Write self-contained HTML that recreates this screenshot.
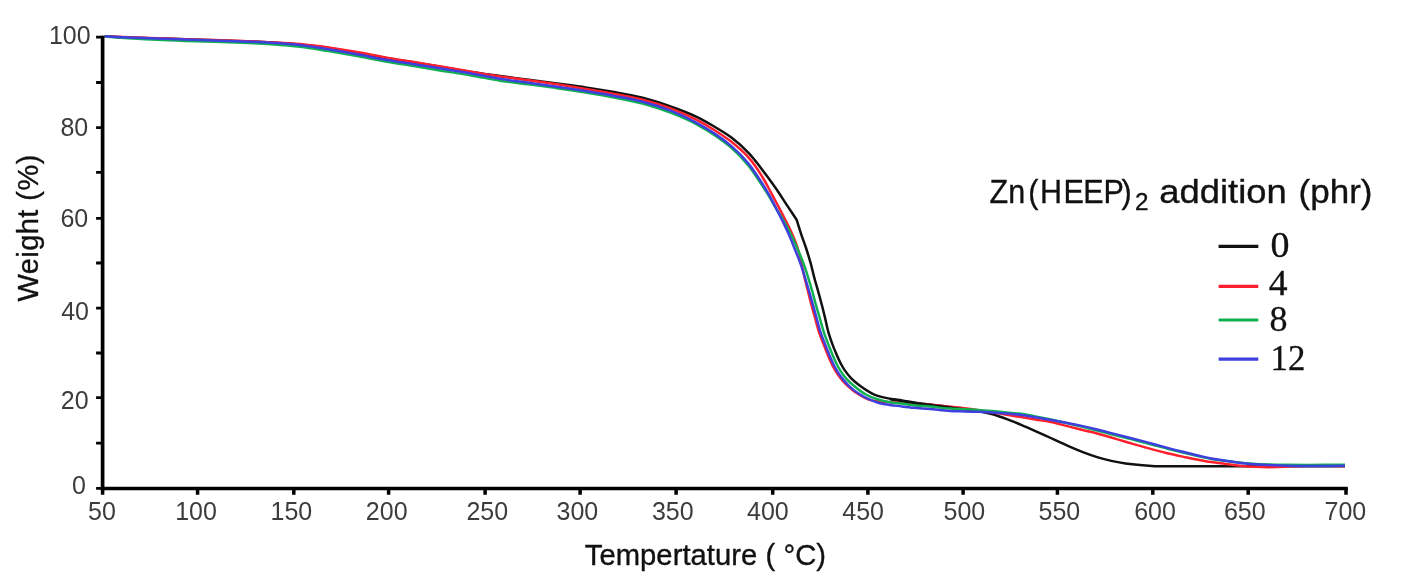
<!DOCTYPE html>
<html lang="en">
<head>
<meta charset="utf-8">
<title>TGA curves</title>
<style>
html,body{margin:0;padding:0;background:#fff;}
body{width:1402px;height:584px;overflow:hidden;}
svg{display:block;filter:blur(0.45px);}
</style>
</head>
<body>
<svg width="1402" height="584" viewBox="0 0 1402 584">
<rect width="1402" height="584" fill="#fff"/>
<g fill="none" stroke-width="2.5" stroke-linejoin="round" stroke-linecap="butt">
<path stroke="#111" d="M104.6 36.3C112.6 36.7 120.5 37.1 128.5 37.4C138.0 37.8 147.5 38.1 157.0 38.4C166.5 38.7 176.1 39.0 185.6 39.3C195.1 39.6 204.6 39.9 214.1 40.2C223.6 40.5 233.1 40.8 242.6 41.2C252.1 41.6 261.7 41.9 271.2 42.4C280.7 42.9 290.2 43.5 299.7 44.4C309.3 45.3 318.9 46.6 328.5 48.0C338.0 49.4 347.5 51.1 357.0 52.8C366.5 54.5 376.0 56.4 385.6 58.0C395.0 59.6 404.5 61.0 414.0 62.5C423.6 64.0 433.1 65.6 442.7 67.2C452.2 68.8 461.7 70.5 471.2 72.0C480.8 73.5 490.4 74.7 500.0 76.0C509.5 77.3 519.0 78.5 528.5 79.8C538.0 81.0 547.5 82.2 557.0 83.5C566.5 84.8 576.1 86.0 585.6 87.4C595.1 88.8 604.6 90.4 614.1 92.1C623.6 93.8 633.2 95.4 642.6 97.8C652.3 100.3 661.8 103.3 671.2 106.7C680.0 109.8 688.7 113.0 697.1 117.1C702.9 119.9 708.6 123.2 714.2 126.5C720.1 130.0 726.0 133.4 731.4 137.5C737.5 142.1 743.2 147.3 748.5 152.8C755.0 159.5 760.4 167.3 766.0 174.8C770.6 181.0 775.2 187.3 779.5 193.7C782.5 198.2 785.4 202.9 788.4 207.4C791.1 211.5 793.9 215.6 796.6 219.7L796.6 219.7C798.2 224.7 799.7 229.8 801.4 234.8C802.9 239.4 804.7 243.9 806.2 248.5C807.8 253.5 809.4 258.6 810.8 263.7C812.0 268.2 813.0 272.9 814.2 277.4C815.4 282.0 816.8 286.5 818.1 291.1C819.4 295.7 820.6 300.2 821.8 304.8C823.0 309.4 824.1 313.9 825.2 318.5C826.4 323.6 827.3 328.7 828.8 333.7C830.2 338.3 831.8 342.9 833.6 347.4C834.6 350.0 835.7 352.5 836.8 355.0C837.9 357.6 839.0 360.2 840.3 362.7C841.7 365.3 843.1 368.0 844.8 370.4C846.7 373.1 848.7 375.7 851.0 378.1C853.7 380.9 856.9 383.4 860.0 385.8C864.5 389.1 869.2 392.4 874.3 394.6C879.2 396.7 884.7 397.7 890.0 398.7C893.9 399.5 897.9 399.8 901.9 400.4C905.9 401.0 909.9 401.8 913.9 402.4C919.3 403.2 924.6 403.9 930.0 404.6C936.6 405.5 943.3 406.3 949.9 407.1C954.6 407.7 959.4 408.2 964.1 408.8C968.9 409.4 973.7 410.0 978.4 410.9C983.2 411.8 988.0 412.8 992.7 414.2C997.5 415.6 1002.2 417.4 1006.9 419.2C1011.7 421.0 1016.5 422.9 1021.2 424.9C1026.0 426.9 1030.7 429.0 1035.4 431.1C1041.7 433.9 1048.0 436.7 1054.3 439.6C1059.0 441.8 1063.7 444.0 1068.5 446.1C1073.2 448.2 1078.0 450.2 1082.8 452.1C1087.5 453.9 1092.3 455.6 1097.1 457.1C1101.8 458.5 1106.5 459.8 1111.3 460.9C1116.0 462.0 1120.8 462.8 1125.6 463.5C1130.3 464.2 1135.1 464.7 1139.9 465.1C1143.9 465.5 1148.0 465.8 1152.0 466.0C1162.2 466.6 1172.5 466.2 1182.7 466.3C1201.8 466.4 1220.9 466.3 1240.0 466.3C1275.0 466.3 1310.0 466.3 1345.0 466.3"/>
<path stroke="#ff1f2d" d="M104.6 36.2C112.6 36.5 120.5 36.9 128.5 37.2C138.0 37.6 147.5 38.0 157.0 38.3C166.5 38.7 176.1 39.0 185.6 39.3C195.1 39.6 204.6 39.8 214.1 40.1C223.6 40.4 233.1 40.7 242.6 41.0C252.1 41.4 261.7 41.7 271.2 42.2C280.8 42.7 290.4 43.1 300.0 44.0C309.5 44.9 319.0 46.1 328.5 47.4C338.0 48.8 347.5 50.4 357.0 52.1C366.6 53.8 376.0 55.8 385.6 57.5C395.0 59.2 404.5 60.6 414.0 62.1C423.6 63.7 433.1 65.2 442.7 66.8C452.2 68.4 461.7 70.1 471.2 71.7C480.8 73.3 490.4 75.0 500.0 76.4C509.5 77.8 519.0 79.0 528.5 80.3C538.0 81.6 547.5 82.9 557.0 84.3C566.6 85.8 576.1 87.4 585.6 89.0C595.1 90.6 604.6 92.2 614.1 94.0C623.6 95.8 633.2 97.3 642.6 99.7C652.3 102.2 661.9 105.2 671.2 108.7C680.0 112.0 688.7 115.9 697.1 120.2C702.9 123.2 708.6 126.5 714.2 130.0C720.1 133.7 725.9 137.5 731.4 141.8C737.4 146.6 743.4 151.7 748.5 157.4C754.6 164.2 759.5 172.1 764.2 180.0C766.8 184.5 769.1 189.1 771.6 193.7C774.0 198.3 776.5 202.8 778.9 207.4C781.3 211.9 783.6 216.5 785.9 221.1C788.2 225.6 790.5 230.2 792.5 234.8C794.2 238.8 795.9 242.9 797.3 247.1C799.1 252.5 800.2 258.1 801.5 263.7C802.6 268.3 803.4 272.9 804.5 277.4C805.6 282.0 806.8 286.5 808.0 291.1C809.1 295.7 810.2 300.2 811.4 304.8C812.6 309.4 813.9 313.9 815.2 318.5C816.6 323.6 817.8 328.7 819.5 333.7C821.1 338.3 823.0 342.8 824.8 347.4C825.8 349.9 826.8 352.5 827.8 355.0C828.9 357.6 830.0 360.2 831.2 362.7C832.4 365.3 833.7 367.9 835.2 370.4C836.8 373.1 838.6 375.7 840.5 378.1C842.7 380.8 845.1 383.4 847.6 385.8C850.9 388.9 854.6 391.9 858.5 394.3C861.5 396.2 864.7 398.1 868.0 399.3C871.3 400.5 875.0 401.1 878.5 401.6C882.3 402.1 886.2 402.0 890.0 402.2C894.0 402.4 897.9 402.6 901.9 402.8C905.9 403.0 910.0 403.2 914.0 403.5C921.2 404.0 928.4 404.5 935.6 405.2C940.4 405.7 945.2 406.3 950.0 406.8C956.1 407.5 962.3 408.0 968.4 408.8C972.3 409.3 976.1 409.9 980.0 410.5C984.2 411.1 988.5 411.7 992.7 412.4C997.4 413.2 1002.2 414.0 1006.9 414.8C1011.7 415.6 1016.4 416.3 1021.2 417.1C1025.9 417.9 1030.7 418.7 1035.4 419.5C1040.2 420.3 1045.0 420.9 1049.7 421.8C1056.0 423.0 1062.2 424.8 1068.5 426.4C1073.3 427.6 1078.0 428.8 1082.8 430.0C1087.6 431.2 1092.4 432.3 1097.1 433.5C1101.9 434.8 1106.6 436.1 1111.3 437.5C1116.1 438.9 1120.8 440.4 1125.6 441.8C1130.4 443.2 1135.1 444.5 1139.9 445.9C1144.6 447.2 1149.3 448.6 1154.1 449.9C1158.8 451.2 1163.6 452.4 1168.4 453.5C1173.1 454.6 1177.9 455.6 1182.7 456.6C1187.4 457.6 1192.2 458.7 1196.9 459.6C1201.7 460.5 1206.4 461.4 1211.2 462.1C1215.9 462.8 1220.7 463.3 1225.4 463.9C1230.3 464.5 1235.1 465.2 1240.0 465.7C1244.9 466.2 1249.9 466.6 1254.8 466.8C1265.0 467.3 1275.3 467.2 1285.6 466.8C1290.4 466.6 1295.2 466.1 1300.0 465.9C1315.0 465.2 1330.0 465.9 1345.0 465.9"/>
<path stroke="#111" d="M890.0 399.2C894.0 399.8 897.9 400.3 901.9 400.9C905.9 401.5 909.9 402.3 913.9 402.9C919.3 403.7 924.6 404.4 930.0 405.1C936.6 406.0 943.3 406.8 949.9 407.6C954.6 408.2 959.4 408.7 964.1 409.3C968.9 409.9 973.6 410.7 978.4 411.4"/>
<path stroke="#10b050" d="M104.6 36.5C112.6 37.1 120.5 37.7 128.5 38.2C138.0 38.8 147.5 39.4 157.0 39.8C166.5 40.3 176.1 40.6 185.6 40.9C195.1 41.2 204.6 41.5 214.1 41.8C223.6 42.1 233.1 42.4 242.6 42.8C252.1 43.2 261.7 43.5 271.2 44.2C280.8 44.9 290.4 45.6 300.0 46.8C309.5 47.9 319.0 49.6 328.5 51.1C338.0 52.7 347.5 54.4 357.0 56.1C366.5 57.8 376.1 59.7 385.6 61.4C395.1 63.1 404.5 64.5 414.0 66.1C423.6 67.7 433.1 69.3 442.7 70.9C452.2 72.4 461.7 73.8 471.2 75.4C480.8 77.0 490.4 79.2 500.0 80.7C509.5 82.2 519.0 83.1 528.5 84.3C538.0 85.6 547.5 86.8 557.0 88.2C566.5 89.6 576.1 91.0 585.6 92.5C595.1 94.1 604.6 95.7 614.1 97.5C623.6 99.3 633.2 101.0 642.6 103.5C652.3 106.1 661.9 109.3 671.2 112.9C680.0 116.3 688.8 120.1 697.1 124.6C703.0 127.8 708.7 131.3 714.2 135.0C720.1 139.0 726.0 143.2 731.4 147.9C737.6 153.3 743.3 159.3 748.5 165.7C752.9 171.1 756.5 177.0 760.4 182.8C763.1 186.8 765.7 190.7 768.2 194.8C770.8 199.1 773.2 203.5 775.8 207.8C778.4 212.3 781.3 216.6 783.8 221.1C786.4 225.6 788.8 230.2 791.1 234.8C793.3 239.3 795.3 243.9 797.3 248.5C799.5 253.5 801.7 258.6 803.6 263.7C805.3 268.2 806.7 272.8 808.1 277.4C809.5 281.9 810.9 286.5 812.2 291.1C813.5 295.6 814.6 300.2 815.9 304.8C817.2 309.4 818.6 313.9 819.9 318.5C821.4 323.6 822.6 328.7 824.3 333.7C825.9 338.3 827.7 342.9 829.5 347.4C830.5 349.9 831.5 352.5 832.6 355.0C833.7 357.6 834.8 360.2 836.0 362.7C837.3 365.3 838.6 367.9 840.2 370.4C841.9 373.1 843.7 375.7 845.8 378.1C848.2 380.9 851.1 383.4 853.9 385.8C857.6 389.0 861.5 392.2 865.8 394.5C869.4 396.5 873.4 398.0 877.4 399.3C881.5 400.6 885.8 401.6 890.0 402.3C893.9 403.0 897.9 403.1 901.9 403.6C905.9 404.1 909.9 404.7 913.9 405.2C919.3 405.8 924.6 406.1 930.0 406.6C936.6 407.2 943.3 408.0 949.9 408.5C954.6 408.8 959.4 409.0 964.1 409.2C968.9 409.5 973.6 409.7 978.4 410.0C983.2 410.3 987.9 410.7 992.7 411.1C997.4 411.5 1002.2 412.0 1006.9 412.4C1011.7 412.9 1016.5 413.1 1021.2 413.8C1026.0 414.5 1030.7 415.6 1035.4 416.5C1040.2 417.4 1044.9 418.3 1049.7 419.3C1056.0 420.6 1062.2 422.2 1068.5 423.6C1073.3 424.7 1078.0 425.8 1082.8 426.9C1087.6 428.1 1092.3 429.3 1097.1 430.5C1101.8 431.7 1106.6 433.0 1111.3 434.2C1116.1 435.4 1120.8 436.6 1125.6 437.8C1130.4 439.0 1135.1 440.3 1139.9 441.5C1144.6 442.7 1149.4 444.0 1154.1 445.2C1158.9 446.5 1163.6 447.8 1168.4 449.0C1173.2 450.2 1177.9 451.4 1182.7 452.6C1187.4 453.7 1192.2 454.9 1196.9 455.9C1201.7 457.0 1206.4 458.1 1211.2 458.9C1215.0 459.6 1218.9 460.0 1222.8 460.5C1230.4 461.5 1238.0 462.5 1245.7 463.2C1253.3 463.9 1260.9 464.2 1268.5 464.5C1274.6 464.7 1280.7 464.7 1286.8 464.8C1306.2 465.0 1325.6 464.8 1345.0 464.8"/>
<path stroke="#3f3fe0" d="M104.6 36.3C112.6 36.7 120.5 37.1 128.5 37.4C138.0 37.8 147.5 38.2 157.0 38.5C166.5 38.9 176.1 39.2 185.6 39.5C195.1 39.8 204.6 40.1 214.1 40.4C223.6 40.7 233.1 41.0 242.6 41.4C252.1 41.8 261.7 42.2 271.2 42.8C280.7 43.4 290.2 43.9 299.7 45.0C309.3 46.1 318.9 47.7 328.5 49.3C338.0 50.8 347.5 52.6 357.0 54.3C366.5 56.0 376.0 58.0 385.6 59.7C395.0 61.3 404.5 62.7 414.0 64.2C423.6 65.7 433.1 67.2 442.7 68.8C452.2 70.3 461.7 71.8 471.2 73.5C480.8 75.2 490.4 77.2 500.0 78.8C509.5 80.3 519.0 81.5 528.5 82.8C538.0 84.1 547.5 85.4 557.0 86.8C566.5 88.2 576.1 89.6 585.6 91.1C595.1 92.6 604.6 94.1 614.1 95.9C623.6 97.7 633.2 99.3 642.6 101.7C652.3 104.2 661.9 107.2 671.2 110.9C680.1 114.4 688.7 118.5 697.1 123.1C702.9 126.3 708.7 129.7 714.2 133.4C720.1 137.3 726.0 141.5 731.4 146.1C737.6 151.4 743.4 157.3 748.5 163.6C753.0 169.1 756.8 175.1 760.6 181.0C763.3 185.2 765.9 189.4 768.4 193.7C771.0 198.2 773.2 202.8 775.6 207.4C778.0 212.0 780.3 216.5 782.6 221.1C784.8 225.6 787.0 230.2 789.0 234.8C791.0 239.3 792.7 243.9 794.5 248.5C796.5 253.6 798.7 258.6 800.5 263.7C802.1 268.2 803.5 272.8 804.9 277.4C806.3 282.0 807.7 286.5 809.0 291.1C810.3 295.7 811.6 300.2 812.9 304.8C814.2 309.4 815.4 313.9 816.7 318.5C818.1 323.6 819.3 328.7 821.0 333.7C822.6 338.3 824.5 342.8 826.3 347.4C827.3 349.9 828.3 352.5 829.3 355.0C830.4 357.6 831.5 360.2 832.7 362.7C833.9 365.3 835.2 367.9 836.7 370.4C838.3 373.1 840.1 375.7 842.0 378.1C844.1 380.8 846.4 383.4 848.9 385.8C852.2 389.0 855.8 391.9 859.7 394.3C862.6 396.2 865.7 397.8 868.9 399.2C871.9 400.5 874.9 401.8 878.0 402.7C881.9 403.9 886.0 404.4 890.0 405.0C893.9 405.6 897.9 405.9 901.9 406.4C905.9 406.9 909.9 407.4 913.9 407.8C919.3 408.3 924.6 408.5 930.0 409.0C936.6 409.6 943.2 410.6 949.9 411.0C954.6 411.3 959.4 411.3 964.1 411.4C968.9 411.5 973.6 411.6 978.4 411.8C983.2 412.0 987.9 412.1 992.7 412.4C997.4 412.7 1002.2 413.1 1006.9 413.5C1011.7 413.9 1016.5 414.3 1021.2 414.9C1026.0 415.5 1030.7 416.5 1035.4 417.3C1040.2 418.1 1044.9 418.9 1049.7 419.7C1056.0 420.8 1062.2 422.0 1068.5 423.2C1073.3 424.1 1078.1 425.1 1082.8 426.1C1087.6 427.2 1092.3 428.3 1097.1 429.5C1101.8 430.7 1106.6 431.9 1111.3 433.1C1116.1 434.3 1120.8 435.5 1125.6 436.7C1130.4 437.9 1135.1 439.1 1139.9 440.4C1144.6 441.6 1149.4 442.9 1154.1 444.2C1158.9 445.5 1163.6 446.8 1168.4 448.1C1173.2 449.4 1177.9 450.6 1182.7 451.8C1187.4 453.0 1192.2 454.1 1196.9 455.2C1201.7 456.3 1206.4 457.6 1211.2 458.5C1215.0 459.2 1218.9 459.7 1222.8 460.3C1230.4 461.4 1238.0 462.7 1245.7 463.5C1253.3 464.3 1260.9 464.7 1268.5 465.1C1274.6 465.4 1280.7 465.5 1286.8 465.7C1306.2 466.2 1325.6 465.8 1345.0 465.8"/>
</g>
<g stroke="#000" stroke-width="4" fill="none">
<path stroke-width="3.7" d="M102.6 35.7V490.3"/>
<path stroke-width="3.5" d="M100.8 488.5H1347.8"/>
</g>
<path stroke="#000" stroke-width="3.5" fill="none" d="M102.6 488V494.8M197.6 488V494.8M293.8 488V494.8M388.6 488V494.8M485.1 488V494.8M580.1 488V494.8M676.1 488V494.8M772.7 488V494.8M867.9 488V494.8M963.1 488V494.8M1057.4 488V494.8M1152.8 488V494.8M1248.2 488V494.8M1346.0 488V494.8"/>
<path stroke="#000" stroke-width="2.8" fill="none" d="M96.1 488.3H103M96.1 443.2H103M96.1 397.7H103M96.1 353.0H103M96.1 308.2H103M96.1 263.0H103M96.1 218.3H103M96.1 172.4H103M96.1 127.7H103M96.1 82.5H103M96.1 37.2H103"/>
<g font-family="'Liberation Sans', sans-serif" font-size="25" fill="#3c3c3c">
<text x="101.9" y="520.3" text-anchor="middle">50</text>
<text x="196.0" y="520.3" text-anchor="middle">100</text>
<text x="291.4" y="520.3" text-anchor="middle">150</text>
<text x="386.7" y="520.3" text-anchor="middle">200</text>
<text x="487.3" y="520.3" text-anchor="middle">250</text>
<text x="577.4" y="520.3" text-anchor="middle">300</text>
<text x="672.8" y="520.3" text-anchor="middle">350</text>
<text x="767.9" y="520.3" text-anchor="middle">400</text>
<text x="863.1" y="520.3" text-anchor="middle">450</text>
<text x="964.4" y="520.3" text-anchor="middle">500</text>
<text x="1059.4" y="520.3" text-anchor="middle">550</text>
<text x="1155.0" y="520.3" text-anchor="middle">600</text>
<text x="1244.8" y="520.3" text-anchor="middle">650</text>
<text x="1345.4" y="520.3" text-anchor="middle">700</text>
<text x="85.8" y="494.4" text-anchor="end">0</text>
<text x="88.6" y="408.9" text-anchor="end">20</text>
<text x="89.0" y="319.5" text-anchor="end">40</text>
<text x="88.2" y="227.2" text-anchor="end">60</text>
<text x="88.2" y="136.3" text-anchor="end">80</text>
<text x="90.7" y="44.1" text-anchor="end">100</text>
</g>
<g font-family="'Liberation Sans', sans-serif" fill="#111" stroke="#111" stroke-width="0.35">
<text x="584.8" y="565.4" font-size="29.2" letter-spacing="0.05">Tempertature ( °C)</text>
<text transform="translate(38.2 301.6) rotate(-90)" font-size="29" letter-spacing="0.45">Weight (%)</text>
<text transform="translate(989.5 202.7) scale(0.925 1)" x="0 20.2 41.8 54.6 80.1 101.3 123.2 142.7" y="0" font-size="33">Zn(HEEP)</text>
<text x="1135" y="210.3" font-size="23" textLength="13.5" lengthAdjust="spacingAndGlyphs">2</text>
<text x="1159.3" y="202.7" font-size="33" textLength="127.5" lengthAdjust="spacingAndGlyphs">addition</text>
<text x="1298.5" y="202.7" font-size="33" textLength="74" lengthAdjust="spacingAndGlyphs">(phr)</text>
</g>
<g stroke-width="3.2" fill="none">
<path stroke="#111" d="M1218.6 246.4H1258.3"/>
<path stroke="#ff1f2d" d="M1218.6 286.3H1258.3"/>
<path stroke="#10b050" d="M1218.6 320.0H1258.3"/>
<path stroke="#3f3fe0" d="M1218.6 359.2H1258.3"/>
</g>
<g font-family="'Liberation Serif', serif" font-size="35" fill="#111" stroke="#111" stroke-width="0.3">
<text x="1270.6" y="257.4" textLength="19.0" lengthAdjust="spacingAndGlyphs">0</text>
<text x="1268.8" y="295.0" textLength="18.8" lengthAdjust="spacingAndGlyphs">4</text>
<text x="1269.6" y="331.2" textLength="18.0" lengthAdjust="spacingAndGlyphs">8</text>
<text x="1270.6" y="370.0" textLength="34.8" lengthAdjust="spacingAndGlyphs">12</text>
</g>
</svg>
</body>
</html>
